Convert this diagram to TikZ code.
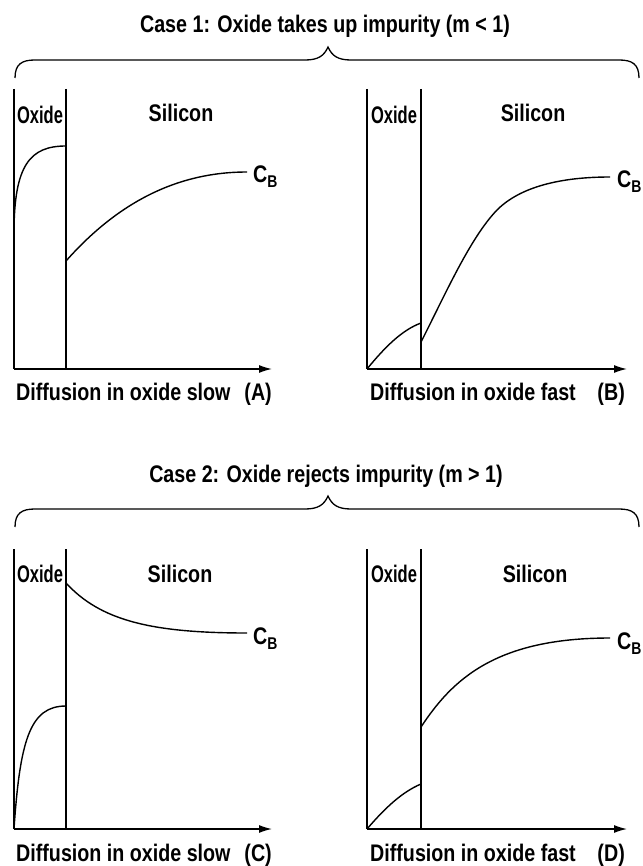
\documentclass[tikz,border=0pt]{standalone}
\usepackage{fontspec}
\setmainfont{Liberation Sans}[FakeStretch=0.82]
\usetikzlibrary{arrows.meta}
\newcommand{\txtsize}{\fontsize{24}{28}\selectfont\bfseries}
\newcommand{\cbsym}{C\raisebox{-5pt}{\fontsize{17}{17}\selectfont B}}
\tikzset{
  frame/.style={line width=1.3pt, line cap=butt},
  prof/.style={line width=1.4pt},
  axisarrow/.style={line width=1.3pt, -{Latex[length=13pt,width=8pt]}},
  lbl/.style={font=\txtsize, inner sep=0pt},
  brace/.style={line width=1.3pt},
}
\begin{document}
\begin{tikzpicture}[x=1pt,y=-1pt]
\useasboundingbox (0,0) rectangle (642,866);

% ---------- Case 1 ----------
\node[lbl, anchor=base] (t1) at (325,33) {Case 1: Oxide takes up impurity (m < 1)};
\draw[brace] (15,78) .. controls (15,64) and (22,60) .. (35,60) -- (305,60)
  .. controls (318,60) and (324,56) .. (328,47)
  .. controls (332,56) and (338,60) .. (351,60) -- (619,60)
  .. controls (632,60) and (639,64) .. (639,78);

% ---------- Case 2 ----------
\node[lbl, anchor=base] (t2) at (326,482) {Case 2: Oxide rejects impurity (m > 1)};
\draw[brace] (15,527) .. controls (15,513) and (22,509) .. (35,509) -- (305,509)
  .. controls (318,509) and (324,505) .. (328,496)
  .. controls (332,505) and (338,509) .. (351,509) -- (619,509)
  .. controls (632,509) and (639,513) .. (639,527);

% ---------- Panel A ----------
\begin{scope}[shift={(14,89)}]
  \coordinate (A-tl) at (0,0);
  \coordinate (A-bl) at (0,280);
  \coordinate (A-ti) at (52,0);
  \coordinate (A-bi) at (52,280);
  \coordinate (A-ax) at (258,280);
  \draw[frame] (A-tl) -- (A-bl);
  \draw[frame] (A-ti) -- (A-bi);
  \draw[axisarrow] (A-bl) -- (A-ax);
  \draw[prof] (0,144) .. controls (0,76) and (16,57) .. (52,57);
  \draw[prof] (52,172) .. controls (106,111) and (166,83) .. (233,83);
  \node[lbl, anchor=base west] (A-cb) at (239,94) {\cbsym};
  \node[lbl, anchor=base] (A-ox) at (26,35) {\scalebox{0.84}[1]{Oxide}};
  \node[lbl, anchor=base] (A-si) at (167,33) {Silicon};
  \node[lbl, anchor=base west] (A-lab) at (2,311) {Diffusion in oxide slow};
  \node[lbl, anchor=base east] (A-id) at (258,311) {(A)};
\end{scope}

% ---------- Panel B ----------
\begin{scope}[shift={(367,89)}]
  \coordinate (B-tl) at (0,0);
  \coordinate (B-bl) at (0,280);
  \coordinate (B-ti) at (54,0);
  \coordinate (B-bi) at (54,280);
  \coordinate (B-ax) at (260,280);
  \draw[frame] (B-tl) -- (B-bl);
  \draw[frame] (B-ti) -- (B-bi);
  \draw[axisarrow] (B-bl) -- (B-ax);
  \draw[prof] (0,280) .. controls (18,258) and (35,241) .. (54,234);
  \draw[prof] (54,253) .. controls (78,206) and (103,149) .. (130,121)
    .. controls (153,98) and (193,88) .. (243,88);
  \node[lbl, anchor=base west] (B-cb) at (250,99) {\cbsym};
  \node[lbl, anchor=base] (B-ox) at (27,35) {\scalebox{0.84}[1]{Oxide}};
  \node[lbl, anchor=base] (B-si) at (166,33) {Silicon};
  \node[lbl, anchor=base west] (B-lab) at (3,311) {Diffusion in oxide fast};
  \node[lbl, anchor=base east] (B-id) at (258,311) {(B)};
\end{scope}

% ---------- Panel C ----------
\begin{scope}[shift={(14,549)}]
  \coordinate (C-tl) at (0,0);
  \coordinate (C-bl) at (0,280);
  \coordinate (C-ti) at (52,0);
  \coordinate (C-bi) at (52,280);
  \coordinate (C-ax) at (258,280);
  \draw[frame] (C-tl) -- (C-bl);
  \draw[frame] (C-ti) -- (C-bi);
  \draw[axisarrow] (C-bl) -- (C-ax);
  \draw[prof] (0,280) .. controls (6,191) and (16,157) .. (52,157);
  \draw[prof] (52,34) .. controls (86,71) and (136,84) .. (233,84);
  \node[lbl, anchor=base west] (C-cb) at (239,95) {\cbsym};
  \node[lbl, anchor=base] (C-ox) at (26,33) {\scalebox{0.84}[1]{Oxide}};
  \node[lbl, anchor=base] (C-si) at (166,33) {Silicon};
  \node[lbl, anchor=base west] (C-lab) at (2,312) {Diffusion in oxide slow};
  \node[lbl, anchor=base east] (C-id) at (258,312) {(C)};
\end{scope}

% ---------- Panel D ----------
\begin{scope}[shift={(367,549)}]
  \coordinate (D-tl) at (0,0);
  \coordinate (D-bl) at (0,280);
  \coordinate (D-ti) at (54,0);
  \coordinate (D-bi) at (54,280);
  \coordinate (D-ax) at (260,280);
  \draw[frame] (D-tl) -- (D-bl);
  \draw[frame] (D-ti) -- (D-bi);
  \draw[axisarrow] (D-bl) -- (D-ax);
  \draw[prof] (0,280) .. controls (18,259) and (35,243) .. (54,235);
  \draw[prof] (54,178) .. controls (85,131) and (128,89) .. (243,89);
  \node[lbl, anchor=base west] (D-cb) at (250,100) {\cbsym};
  \node[lbl, anchor=base] (D-ox) at (27,33) {\scalebox{0.84}[1]{Oxide}};
  \node[lbl, anchor=base] (D-si) at (168,33) {Silicon};
  \node[lbl, anchor=base west] (D-lab) at (3,312) {Diffusion in oxide fast};
  \node[lbl, anchor=base east] (D-id) at (258,312) {(D)};
\end{scope}
\end{tikzpicture}
\end{document}
